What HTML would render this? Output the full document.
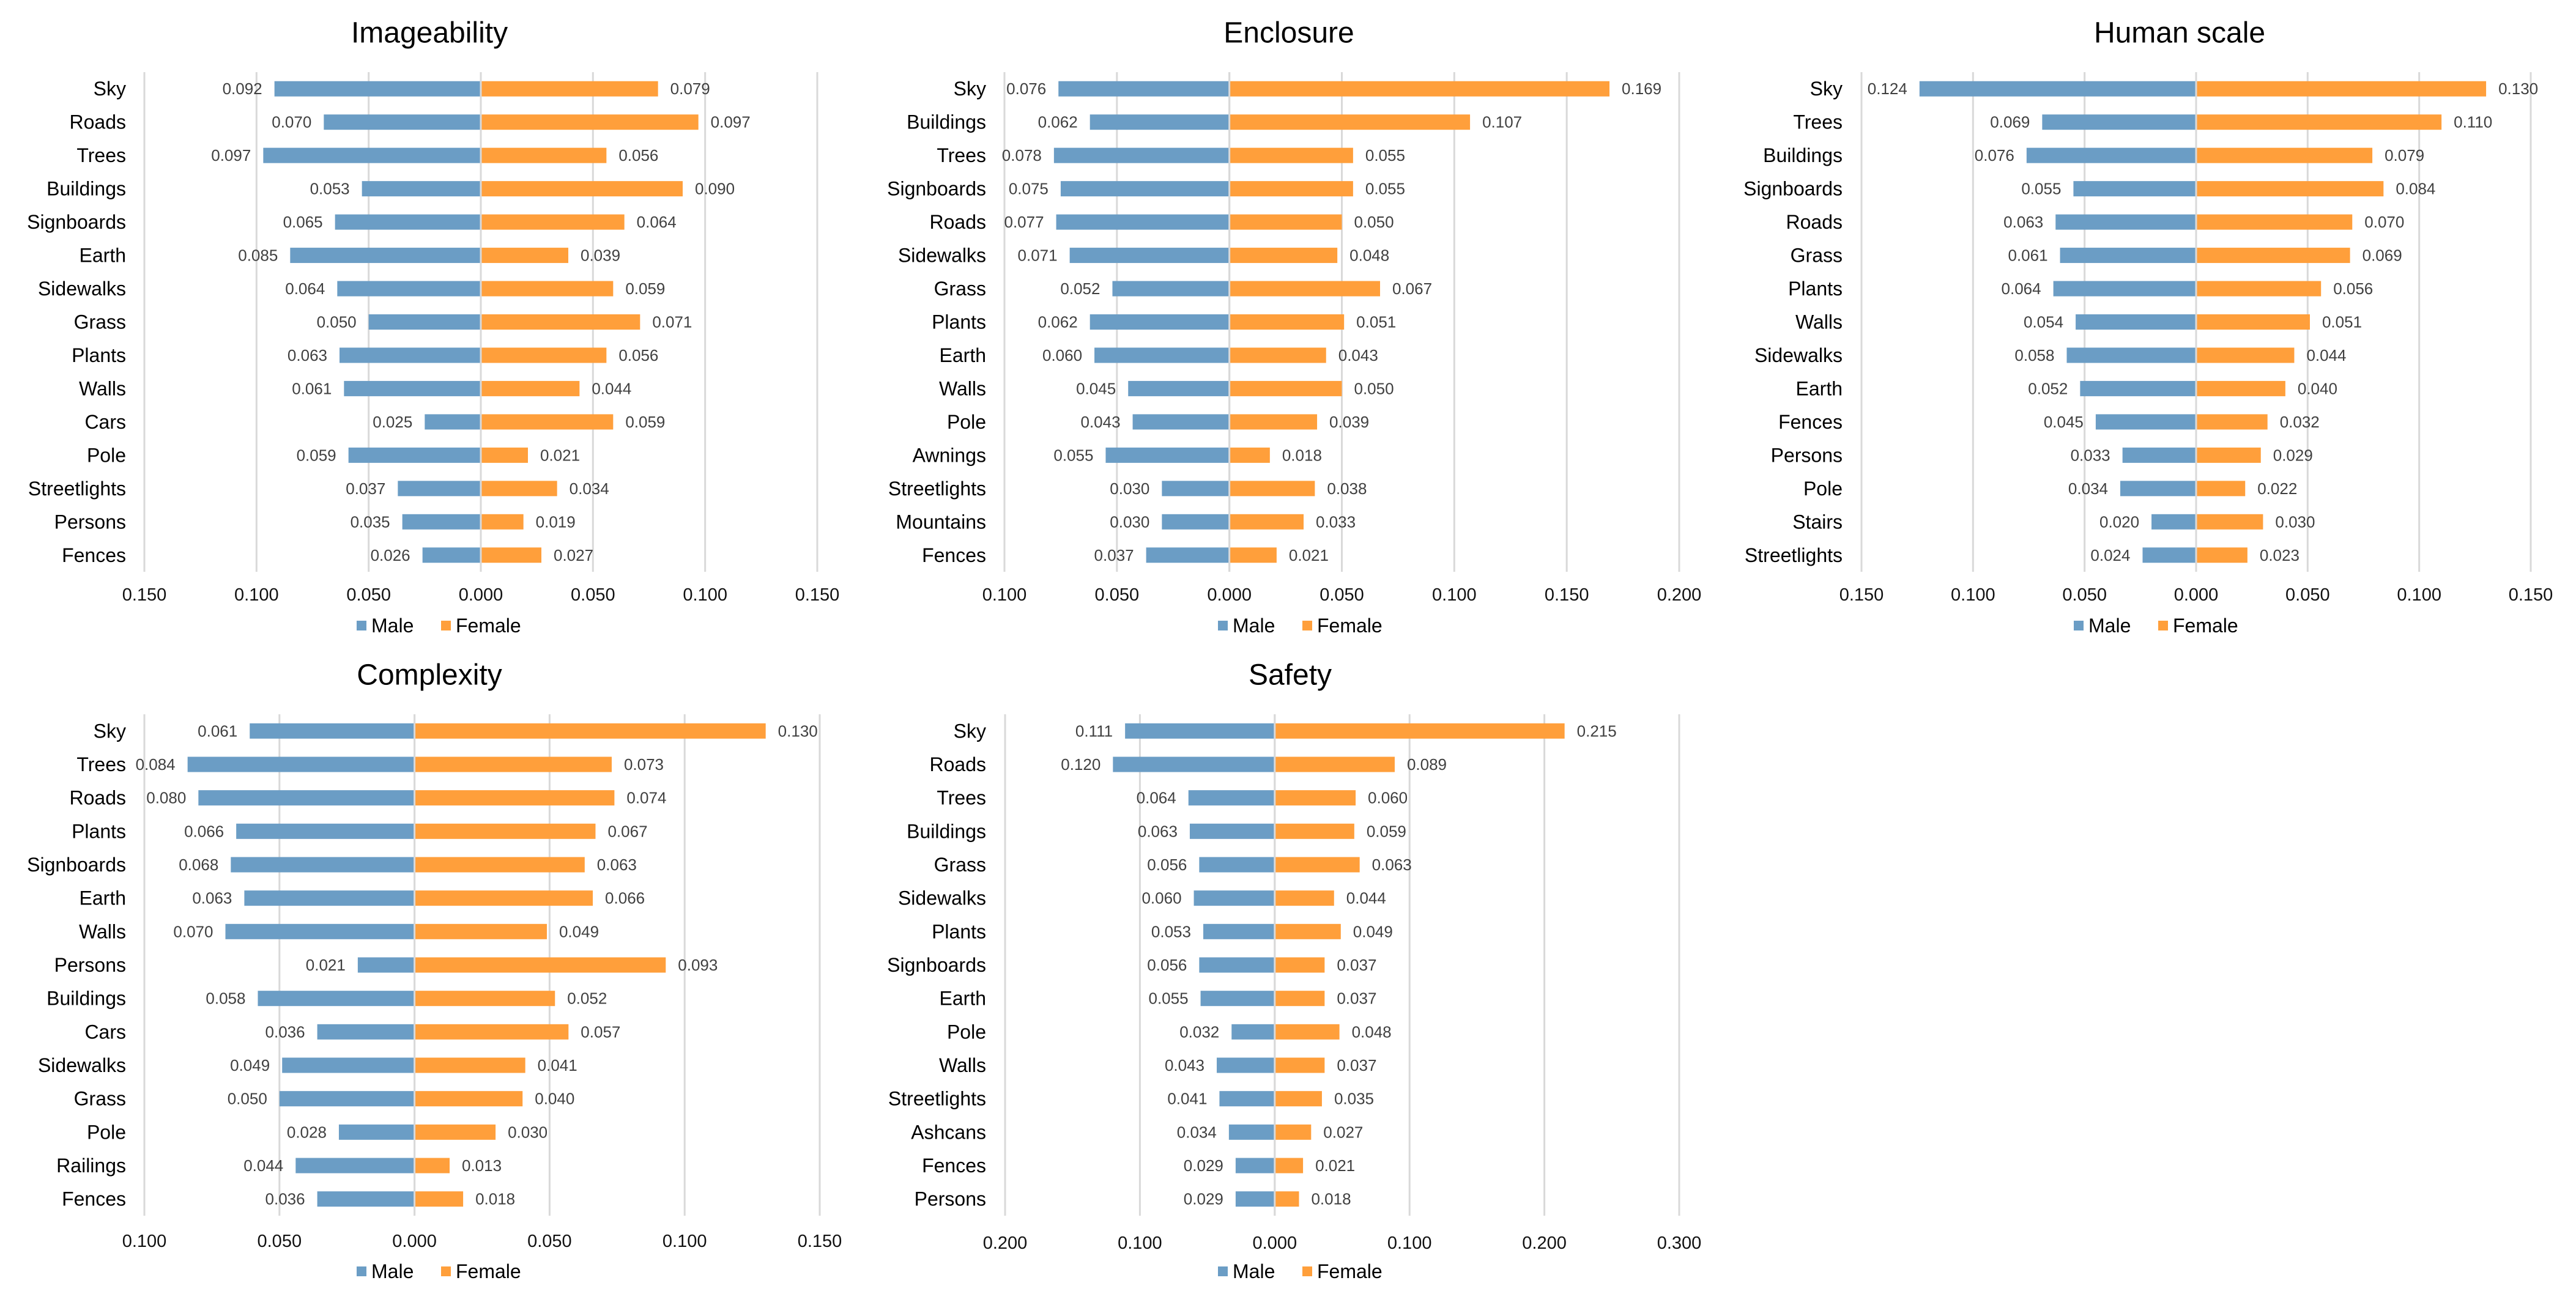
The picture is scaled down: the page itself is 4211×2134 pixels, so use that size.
<!DOCTYPE html>
<html>
<head>
<meta charset="utf-8">
<style>
html,body{margin:0;padding:0;background:#fff;overflow:hidden;}
svg{display:block;}
text{font-family:"Liberation Sans",Arial,sans-serif;}
</style>
</head>
<body>
<svg id="fig" xmlns="http://www.w3.org/2000/svg" width="4211" height="2134" viewBox="0 0 4211 2134"></svg>
<script>
// ---- Imageability ----
const imgCats = ["Sky","Roads","Trees","Buildings","Signboards","Earth","Sidewalks","Grass","Plants","Walls","Cars","Pole","Streetlights","Persons","Fences"];
const imgMale = [0.092,0.070,0.097,0.053,0.065,0.085,0.064,0.050,0.063,0.061,0.025,0.059,0.037,0.035,0.026];
const imgFemale = [0.079,0.097,0.056,0.090,0.064,0.039,0.059,0.071,0.056,0.044,0.059,0.021,0.034,0.019,0.027];
const imgTicks = [-0.15,-0.10,-0.05,0,0.05,0.10,0.15];
// ---- Enclosure ----
const encCats = ["Sky","Buildings","Trees","Signboards","Roads","Sidewalks","Grass","Plants","Earth","Walls","Pole","Awnings","Streetlights","Mountains","Fences"];
const encMale = [0.076,0.062,0.078,0.075,0.077,0.071,0.052,0.062,0.060,0.045,0.043,0.055,0.030,0.030,0.037];
const encFemale = [0.169,0.107,0.055,0.055,0.050,0.048,0.067,0.051,0.043,0.050,0.039,0.018,0.038,0.033,0.021];
const encTicks = [-0.10,-0.05,0,0.05,0.10,0.15,0.20];
// ---- Human scale ----
const humCats = ["Sky","Trees","Buildings","Signboards","Roads","Grass","Plants","Walls","Sidewalks","Earth","Fences","Persons","Pole","Stairs","Streetlights"];
const humMale = [0.124,0.069,0.076,0.055,0.063,0.061,0.064,0.054,0.058,0.052,0.045,0.033,0.034,0.020,0.024];
const humFemale = [0.130,0.110,0.079,0.084,0.070,0.069,0.056,0.051,0.044,0.040,0.032,0.029,0.022,0.030,0.023];
const humTicks = [-0.15,-0.10,-0.05,0,0.05,0.10,0.15];
// ---- Complexity ----
const cpxCats = ["Sky","Trees","Roads","Plants","Signboards","Earth","Walls","Persons","Buildings","Cars","Sidewalks","Grass","Pole","Railings","Fences"];
const cpxMale = [0.061,0.084,0.080,0.066,0.068,0.063,0.070,0.021,0.058,0.036,0.049,0.050,0.028,0.044,0.036];
const cpxFemale = [0.130,0.073,0.074,0.067,0.063,0.066,0.049,0.093,0.052,0.057,0.041,0.040,0.030,0.013,0.018];
const cpxTicks = [-0.10,-0.05,0,0.05,0.10,0.15];
// ---- Safety ----
const safCats = ["Sky","Roads","Trees","Buildings","Grass","Sidewalks","Plants","Signboards","Earth","Pole","Walls","Streetlights","Ashcans","Fences","Persons"];
const safMale = [0.111,0.120,0.064,0.063,0.056,0.060,0.053,0.056,0.055,0.032,0.043,0.041,0.034,0.029,0.029];
const safFemale = [0.215,0.089,0.060,0.059,0.063,0.044,0.049,0.037,0.037,0.048,0.037,0.035,0.027,0.021,0.018];
const safTicks = [-0.20,-0.10,0,0.10,0.20,0.30];

const NS = "http://www.w3.org/2000/svg";
const fig = document.getElementById("fig");
function mk(tag, attrs, parent){
  const e = document.createElementNS(NS, tag);
  for (const k in attrs) e.setAttribute(k, attrs[k]);
  parent.appendChild(e);
  return e;
}
function drawChart(key, title, cats, male, female, ticks, L){
  const g = mk("g", {}, fig);
  
  
  const tmin = ticks[0], tmax = ticks[ticks.length-1];
  const xs = v => L.x0 + (v - tmin) / (tmax - tmin) * (L.x1 - L.x0);
  const n = cats.length;
  const pitch = (L.bottom - L.top) / n;
  const yc = i => L.top + pitch * (i + 0.5);
  const bh = 25;
  const t = mk("text", {x:L.tx, y:L.ty, "font-size":48, "text-anchor":"middle", "dominant-baseline":"central", fill:"#000"}, g);
  t.textContent = title;
  
  
  ticks.forEach(v => {
    const x = xs(v);
    const gl = mk("line", {x1:x, x2:x, y1:L.top, y2:L.bottom, stroke:"#d9d9d9", "stroke-width":3}, g);
    
    
    const tl = mk("text", {x:x, y:L.tickY, "font-size":29, "text-anchor":"middle", "dominant-baseline":"central", fill:"#111"}, g);
    tl.textContent = Math.abs(v).toFixed(3);
    
    
  });
  const z = xs(0);
  cats.forEach((c, i) => {
    const y = yc(i);
    const cl = mk("text", {x:L.labelR, y:y, "font-size":32, "text-anchor":"end", "dominant-baseline":"central", fill:"#000"}, g);
    cl.textContent = c;
    
    
    const xm = xs(-male[i]);
    const mb = mk("rect", {x:xm, y:y-bh/2, width:z-xm, height:bh, fill:"#6b9dc5"}, g);
    
    
    const xf = xs(female[i]);
    const fb = mk("rect", {x:z, y:y-bh/2, width:xf-z, height:bh, fill:"#ff9f3b"}, g);
    
    
    const ml = mk("text", {x:xm-20, y:y, "font-size":26, "text-anchor":"end", "dominant-baseline":"central", fill:"#404040"}, g);
    ml.textContent = male[i].toFixed(3);
    
    
    const fl = mk("text", {x:xf+20, y:y, "font-size":26, "text-anchor":"start", "dominant-baseline":"central", fill:"#404040"}, g);
    fl.textContent = female[i].toFixed(3);
    
    
  });
  const axis = mk("line", {x1:z, x2:z, y1:L.top, y2:L.bottom, stroke:"#d9d9d9", "stroke-width":3}, g);
  
  
  const lg = mk("g", {}, g);
  
  
  const lx = L.legX, ly = L.legY;
  const s1 = mk("rect", {x:lx, y:ly-8, width:16, height:16, fill:"#6b9dc5"}, lg);
  
  
  const t1 = mk("text", {x:lx+24, y:ly, "font-size":32, "dominant-baseline":"central", fill:"#000"}, lg);
  t1.textContent = "Male";
  
  
  const s2 = mk("rect", {x:lx+138, y:ly-8, width:16, height:16, fill:"#ff9f3b"}, lg);
  
  
  const t2 = mk("text", {x:lx+162, y:ly, "font-size":32, "dominant-baseline":"central", fill:"#000"}, lg);
  t2.textContent = "Female";
  
  
}
drawChart("imageability","Imageability",imgCats,imgMale,imgFemale,imgTicks,
  {x0:236,x1:1336,top:118,bottom:935,labelR:206,tx:702,ty:54,tickY:973,legX:583,legY:1023});
drawChart("enclosure","Enclosure",encCats,encMale,encFemale,encTicks,
  {x0:1642,x1:2745,top:118,bottom:935,labelR:1612,tx:2107,ty:54,tickY:973,legX:1991,legY:1023});
drawChart("human-scale","Human scale",humCats,humMale,humFemale,humTicks,
  {x0:3043,x1:4137,top:118,bottom:935,labelR:3012,tx:3563,ty:54,tickY:973,legX:3390,legY:1023});
drawChart("complexity","Complexity",cpxCats,cpxMale,cpxFemale,cpxTicks,
  {x0:236,x1:1340,top:1168,bottom:1988,labelR:206,tx:702,ty:1104,tickY:2030,legX:583,legY:2079});
drawChart("safety","Safety",safCats,safMale,safFemale,safTicks,
  {x0:1643,x1:2745,top:1168,bottom:1988,labelR:1612,tx:2109,ty:1104,tickY:2033,legX:1991,legY:2079});
</script>
</body>
</html>
